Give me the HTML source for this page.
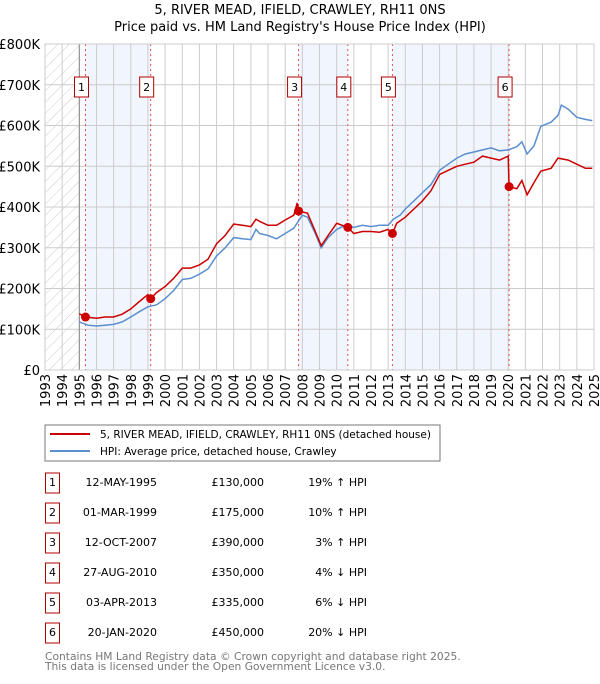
<!DOCTYPE html>
<html><head><meta charset="utf-8"><style>
body{margin:0;background:#fff;font-family:"DejaVu Sans","Liberation Sans",sans-serif;}
svg text{font-family:"DejaVu Sans","Liberation Sans",sans-serif;}
</style></head><body>
<svg id="chart" width="600" height="680" xmlns="http://www.w3.org/2000/svg">
<defs><pattern id="hatch" width="8" height="8" patternUnits="userSpaceOnUse" patternTransform="rotate(45)"><line x1="0" y1="0" x2="0" y2="8" stroke="#ccc" stroke-width="1"/></pattern></defs>
<text x="300" y="14" text-anchor="middle" font-size="13">5, RIVER MEAD, IFIELD, CRAWLEY, RH11 0NS</text>
<text x="300" y="31" text-anchor="middle" font-size="13">Price paid vs. HM Land Registry's House Price Index (HPI)</text>
<g id="plot"></g>
<rect x="45" y="425" width="395" height="36" fill="#fff" stroke="#777"/>
<line x1="50" y1="434" x2="90" y2="434" stroke="#cc0000" stroke-width="2"/>
<text x="100" y="438" font-size="10.5">5, RIVER MEAD, IFIELD, CRAWLEY, RH11 0NS (detached house)</text>
<line x1="50" y1="451" x2="90" y2="451" stroke="#5b8fd0" stroke-width="2"/>
<text x="100" y="455" font-size="10.5">HPI: Average price, detached house, Crawley</text>
<g id="table"></g>
<text x="45" y="660" font-size="10.7" fill="#777">Contains HM Land Registry data © Crown copyright and database right 2025.</text>
<text x="45" y="670" font-size="10.7" fill="#777">This data is licensed under the Open Government Licence v3.0.</text>
</svg>
<script>
const hpiYears=[1995.0,1995.5,1996,1996.5,1997,1997.5,1998,1998.5,1999,1999.5,2000,2000.5,2001,2001.5,2002,2002.5,2003,2003.5,2004,2004.5,2005,2005.3,2005.5,2006,2006.5,2007,2007.5,2008,2008.3,2008.7,2009.1,2009.5,2010,2010.5,2011,2011.5,2012,2012.5,2013,2013.3,2013.7,2014,2014.5,2015,2015.5,2016,2016.5,2017,2017.5,2018,2018.5,2019,2019.5,2020,2020.5,2020.8,2021.1,2021.5,2021.9,2022.5,2022.9,2023.1,2023.5,2024,2024.5,2024.9];
const hpiValues=[118,110,108,110,112,118,130,143,155,160,175,195,222,225,235,248,280,300,325,322,320,345,335,330,322,335,348,380,375,340,300,325,345,355,350,355,352,355,355,370,380,395,415,435,455,490,505,520,530,535,540,545,538,540,548,560,530,550,598,608,625,650,640,620,615,612];
const priceYears=[1995.0,1995.36,1996,1996.5,1997,1997.5,1998,1998.5,1999,1999.16,1999.5,2000,2000.5,2001,2001.5,2002,2002.5,2003,2003.5,2004,2004.5,2005,2005.3,2005.5,2006,2006.5,2007,2007.5,2007.7,2007.78,2008.3,2008.7,2009.1,2009.5,2010,2010.65,2011,2011.5,2012,2012.5,2013,2013.25,2013.5,2014,2014.5,2015,2015.5,2016,2016.5,2017,2017.5,2018,2018.5,2019,2019.5,2020.0,2020.05,2020.5,2020.8,2021.1,2021.5,2021.9,2022.5,2022.9,2023.5,2024,2024.5,2024.9];
const priceValues=[138,130,127,130,130,137,150,168,185,175,190,205,225,250,250,258,272,310,330,358,355,352,370,365,355,355,368,380,410,390,385,345,305,330,360,350,335,340,340,338,345,335,360,375,395,415,440,480,490,500,505,510,525,520,515,525,450,445,465,430,460,488,495,520,515,505,495,495];
const saleYears=[1995.36,1999.16,2007.78,2010.65,2013.25,2020.05];
const salePrices=[130,175,390,350,335,450];
const saleDates=["12-MAY-1995","01-MAR-1999","12-OCT-2007","27-AUG-2010","03-APR-2013","20-JAN-2020"];
const salePriceLabels=["£130,000","£175,000","£390,000","£350,000","£335,000","£450,000"];
const saleHpi=["19% ↑ HPI","10% ↑ HPI","3% ↑ HPI","4% ↓ HPI","6% ↓ HPI","20% ↓ HPI"];
const yTicks=[0,100,200,300,400,500,600,700,800];
const yTickLabels=["£0","£100K","£200K","£300K","£400K","£500K","£600K","£700K","£800K"];
const xTicks=[1993,1994,1995,1996,1997,1998,1999,2000,2001,2002,2003,2004,2005,2006,2007,2008,2009,2010,2011,2012,2013,2014,2015,2016,2017,2018,2019,2020,2021,2022,2023,2024,2025];

const X0=45,X1=594,Y0=370,Y1=44;
const xs=y=>X0+(y-1993)/(2025-1993)*(X1-X0);
const ys=v=>Y0-v/800*(Y0-Y1);
const NS="http://www.w3.org/2000/svg";
function mk(tag,attrs,parent,text){const e=document.createElementNS(NS,tag);for(const k in attrs)e.setAttribute(k,attrs[k]);if(text!==undefined)e.textContent=text;parent.appendChild(e);return e;}
const g=document.getElementById('plot');
[[0,1],[2,3],[4,5]].forEach(p=>{
  const r=mk('rect',{x:xs(saleYears[p[0]]),y:Y1,width:xs(saleYears[p[1]])-xs(saleYears[p[0]]),height:Y0-Y1,fill:'#eef3fd',opacity:0.8},g);
  
  
});
const h=mk('rect',{x:X0,y:Y1,width:xs(1995)-X0,height:Y0-Y1,fill:'url(#hatch)'},g);


xTicks.forEach(t=>{
  const l=mk('line',{x1:xs(t),x2:xs(t),y1:Y1,y2:Y0,stroke:'#ccc','stroke-width':1},g);
  
  
  const tx=mk('text',{x:0,y:0,'font-size':13,'text-anchor':'end',transform:`translate(${xs(t)+5},374) rotate(-90)`},g,String(t));
  
  
});
yTicks.forEach((t,i)=>{
  const l=mk('line',{x1:X0,x2:X1,y1:ys(t),y2:ys(t),stroke:'#ccc','stroke-width':1},g);
  
  
  const tx=mk('text',{x:40,y:ys(t)+5,'font-size':13,'text-anchor':'end'},g,yTickLabels[i]);
  
  
});
const vl=mk('line',{x1:xs(1995),x2:xs(1995),y1:Y1,y2:Y0,stroke:'#888','stroke-width':1},g);


saleYears.forEach(s=>{
  const l=mk('line',{x1:xs(s),x2:xs(s),y1:Y1,y2:Y0,stroke:'#e05050','stroke-width':1,'stroke-dasharray':'2,3'},g);
  
  
});
function line(xa,va,color,name){
  const d=xa.map((x,i)=>(i?'L':'M')+xs(x).toFixed(1)+','+ys(va[i]).toFixed(1)).join('');
  const p=mk('path',{d:d,fill:'none',stroke:color,'stroke-width':1.5},g);
  
  
}
line(hpiYears,hpiValues,'#5b8fd0','hpi-line');
line(priceYears,priceValues,'#cc0000','property-price-line');
saleYears.forEach((s,i)=>{
  const c=mk('circle',{cx:xs(s),cy:ys(salePrices[i]),r:4.5,fill:'#cc0000'},g);
  
  
  const b=mk('rect',{x:xs(s)-11,y:77,width:14,height:20,fill:'#fff',stroke:'#b00000'},g);
  
  
  const t=mk('text',{x:xs(s)-4,y:91,'font-size':11,'text-anchor':'middle'},g,String(i+1));
  
  
});
const fr=mk('rect',{x:X0,y:Y1,width:X1-X0,height:Y0-Y1,fill:'none',stroke:'#ccc'},g);


const tb=document.getElementById('table');
saleDates.forEach((d,i)=>{
  const cy=483+i*30;
  const b=mk('rect',{x:45.5,y:cy-10,width:14,height:20,fill:'#fff',stroke:'#b00000'},tb);
  
  
  const n=mk('text',{x:52.5,y:cy+3,'font-size':11,'text-anchor':'middle'},tb,String(i+1));
  
  
  const t1=mk('text',{x:157,y:cy+3,'font-size':11,'text-anchor':'end'},tb,d);
  
  
  const t2=mk('text',{x:264,y:cy+3,'font-size':11,'text-anchor':'end'},tb,salePriceLabels[i]);
  
  
  const t3=mk('text',{x:367,y:cy+3,'font-size':11,'text-anchor':'end'},tb,saleHpi[i]);
  
  
});
</script>
</body></html>
